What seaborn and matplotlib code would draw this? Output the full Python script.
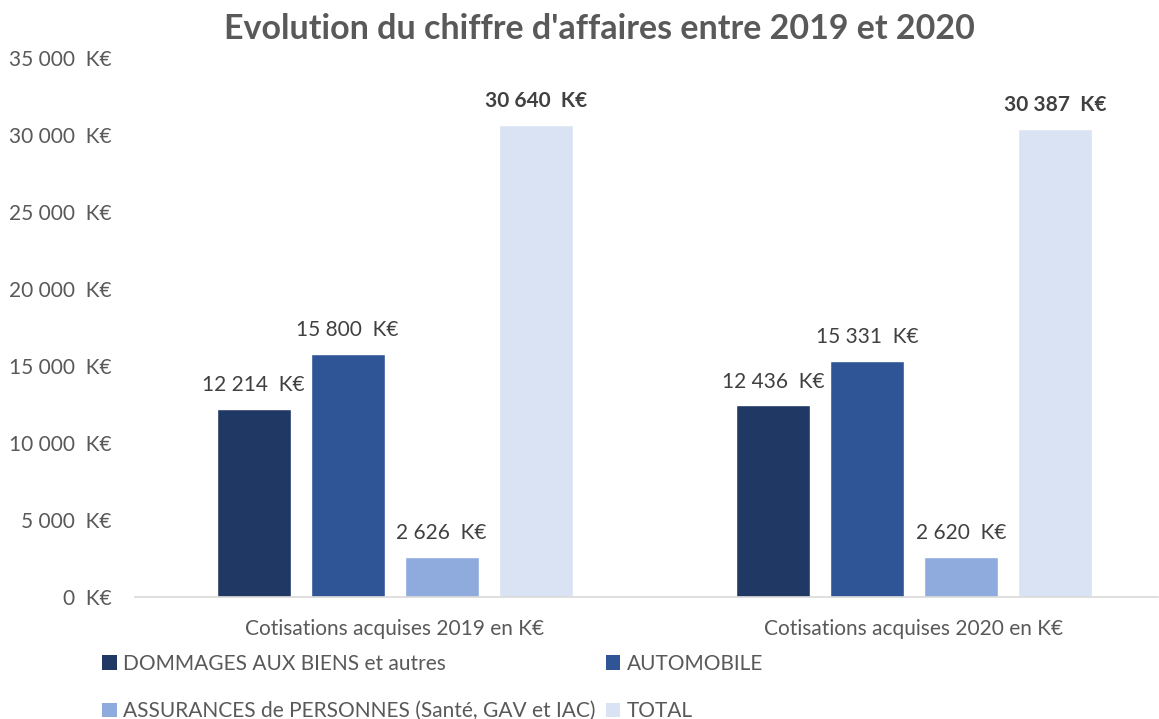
import matplotlib
matplotlib.use("Agg")
import matplotlib.pyplot as plt
import seaborn as sns
import pandas as pd
from matplotlib.patches import Patch

categories = ["Cotisations acquises 2019 en K€", "Cotisations acquises 2020 en K€"]
series = ["DOMMAGES AUX BIENS et autres", "AUTOMOBILE",
          "ASSURANCES de PERSONNES (Santé, GAV et IAC)", "TOTAL"]
dommages = [12214, 12436]
automobile = [15800, 15331]
personnes = [2626, 2620]
total = [30640, 30387]
yticks = [0, 5000, 10000, 15000, 20000, 25000, 30000, 35000]

colors = ["#203864", "#2F5597", "#8FAADC", "#DAE3F3"]

rows = []
for s, vals in zip(series, [dommages, automobile, personnes, total]):
    for c, v in zip(categories, vals):
        rows.append({"cat": c, "serie": s, "val": v})
df = pd.DataFrame(rows)

sns.set_style("white")
plt.rcParams["font.family"] = ["Lato", "DejaVu Sans"]

FS = 15
fig = plt.figure(figsize=(11.59, 7.19), dpi=100)
ax = fig.add_axes([135/1159, (719-597)/719, 1023/1159, (597-58)/719])

sns.barplot(data=df, x="cat", y="val", hue="serie", hue_order=series,
            order=categories, palette=colors, width=0.724, gap=0.215,
            saturation=1, ax=ax, legend=False)

fmt = lambda v: f"{v:,}".replace(",", " ") + "  K€"
for i, cont in enumerate(ax.containers):
    for bar in cont:
        h = bar.get_height()
        ax.annotate(fmt(int(round(h))), (bar.get_x() + bar.get_width()/2, h),
                    xytext=(0, 10), textcoords="offset points",
                    ha="center", va="bottom", fontsize=FS, color="#404040",
                    fontweight="bold" if i == 3 else "normal")

ax.set_ylim(0, 35000)
ax.set_xlim(-0.5, 1.47)
ax.set_yticks(yticks)
ax.set_yticklabels([fmt(t) for t in yticks], fontsize=FS, color="#595959")
ax.tick_params(axis="x", labelsize=FS, labelcolor="#595959", length=0, pad=16)
ax.tick_params(axis="y", length=0, pad=17)
ax.set_xlabel("")
ax.set_ylabel("")
for s in ["top", "right", "left"]:
    ax.spines[s].set_visible(False)
ax.spines["bottom"].set_color("#D9D9D9")
ax.spines["bottom"].set_linewidth(1.2)

fig.suptitle("Evolution du chiffre d'affaires entre 2019 et 2020", x=0.517, y=0.982,
             fontsize=24.5, fontweight="bold", color="#595959")

order = [0, 2, 1, 3]
handles = [Patch(facecolor=colors[k], edgecolor="none") for k in order]
labels = [series[k] for k in order]
fig.legend(handles, labels, ncol=2, loc="upper left", bbox_to_anchor=(102/1159, 1 - 654/719),
           frameon=False, handlelength=0.7, handleheight=0.7, handletextpad=0.3,
           columnspacing=0.5, labelspacing=1.3, fontsize=FS, labelcolor="#595959",
           borderaxespad=0, borderpad=0)

fig.savefig("out.png", dpi=100)
